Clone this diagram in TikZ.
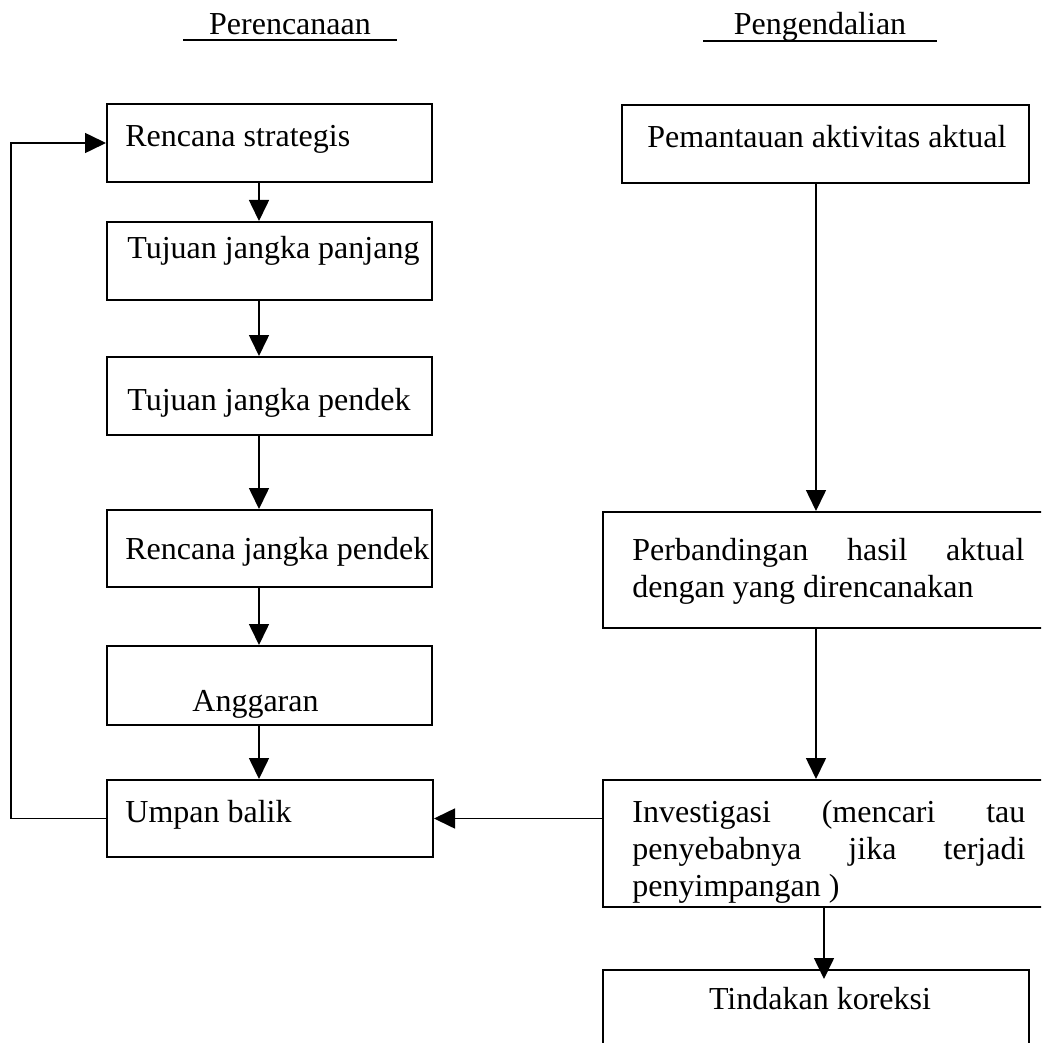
\documentclass[tikz,border=0pt]{standalone}
\usepackage{fontspec}
\setmainfont{Liberation Serif}
\usetikzlibrary{fit,arrows.meta}
\begin{document}
\begin{tikzpicture}[x=0.5pt,y=-0.5pt,
  box/.style={draw,line width=1pt,inner sep=0pt,rectangle},
  lbl/.style={inner sep=0pt,anchor=base west,font=\fontsize{16}{18.5}\selectfont},
  head/.style={inner sep=0pt,anchor=base,font=\fontsize{16}{18.5}\selectfont},
  arr/.style={line width=0.8pt,-{Triangle[length=10.5pt,width=10pt]}},
  plain/.style={line width=0.8pt}]
\useasboundingbox (0,0) rectangle (1041,1043);
\clip (0,0) rectangle (1041,1043);

% headings
\node[head] (h1) at (290,35) {Perencanaan};
\node[head] (h2) at (820,35) {Pengendalian};
\draw[line width=0.9pt] (183,40) -- (397,40);
\draw[line width=0.9pt] (703,41) -- (937,41);

% left column boxes
\node[box,fit={(107,104) (432,182)}] (rs) {};
\node[box,fit={(107,222) (432,300)}] (tjp) {};
\node[box,fit={(107,357) (432,435)}] (tjd) {};
\node[box,fit={(107,510) (432,587)}] (rjp) {};
\node[box,fit={(107,646) (432,725)}] (ang) {};
\node[box,fit={(107,780) (433,857)}] (ub) {};

\node[lbl] (trs) at (125,147) {Rencana strategis};
\node[lbl] (ttjp) at (127,258) {Tujuan jangka panjang};
\node[lbl] (ttjd) at (127,410) {Tujuan jangka pendek};
\node[lbl] (trjp) at (125,559) {Rencana jangka pendek};
\node[lbl] (tang) at (192,711) {Anggaran};
\node[lbl] (tub) at (125,822) {Umpan balik};

% right column boxes
\node[box,fit={(622,105) (1029,183)}] (pm) {};
\node[box,fit={(603,512) (1046,628)}] (pb) {};
\node[box,fit={(603,780) (1046,907)}] (inv) {};
\node[box,fit={(603,970) (1029,1052)}] (tk) {};

\node[lbl] (tpm) at (647,148) {Pemantauan aktivitas aktual};
\node[lbl] (tpb) at (632,560) {\vtop{\hsize=196pt\baselineskip=18.5pt
  \hbox to\hsize{Perbandingan\hfill hasil\hfill aktual}
  \hbox{dengan yang direncanakan}}};
\node[lbl] (tinv) at (632,822) {\vtop{\hsize=196.5pt\baselineskip=18.5pt
  \hbox to\hsize{Investigasi\hfill (mencari\hfill tau}
  \hbox to\hsize{penyebabnya\hfill jika\hfill terjadi}
  \hbox{penyimpangan )}}};
\node[head] (ttk) at (820,1009) {Tindakan koreksi};

% helper coordinates for connector columns
\coordinate (lc) at (259,0);
\coordinate (rc) at (816,0);
\coordinate (rc2) at (824,0);
\coordinate (fb) at (11,0);

% left column connectors
\draw[arr] (rs.south -| lc) -- (tjp.north -| lc);
\draw[arr] (tjp.south -| lc) -- (tjd.north -| lc);
\draw[arr] (tjd.south -| lc) -- (rjp.north -| lc);
\draw[arr] (rjp.south -| lc) -- (ang.north -| lc);
\draw[arr] (ang.south -| lc) -- (ub.north -| lc);

% feedback loop
\draw[arr] (ub.west) -- (ub.west -| fb) -- (rs.west -| fb) -- (rs.west);

% right column connectors
\draw[arr] (pm.south -| rc) -- (pb.north -| rc);
\draw[arr] (pb.south -| rc) -- (inv.north -| rc);
\draw[arr,shorten >=-5pt] (inv.south -| rc2) -- (tk.north -| rc2);
\draw[arr] (ub.east -| inv.west) -- (ub.east);
\end{tikzpicture}
\end{document}
